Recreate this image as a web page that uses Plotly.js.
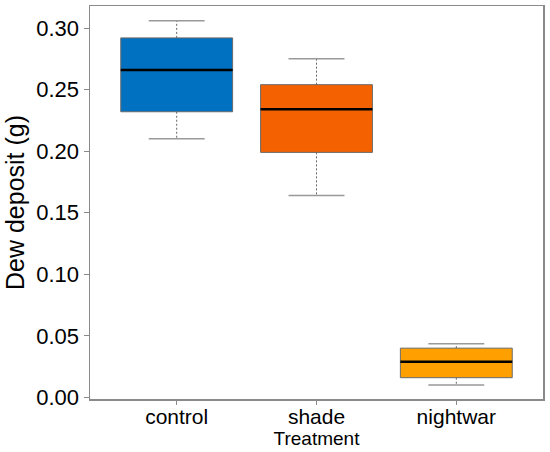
<!DOCTYPE html>
<html>
<head>
<meta charset="utf-8">
<script src="https://cdn.plot.ly/plotly-3.0.1.min.js"></script>
<style>
  html, body { margin: 0; padding: 0; background: #fff; }
  #chart { width: 550px; height: 452px; }
</style>
</head>
<body>
<div id="chart"></div>
<script>
// box summary values
var treatments = ["control", "shade", "nightwar"];
var lowerWhisker = [0.210, 0.164, 0.010];
var q1 = [0.232, 0.199, 0.016];
var medians = [0.266, 0.234, 0.029];
var q3 = [0.292, 0.254, 0.040];
var upperWhisker = [0.306, 0.275, 0.0435];
var boxColors = ["#0070C0", "#F46100", "#FFA000"];

var pos = [0, 1, 2];
var boxW = 0.8;
var capW = 0.4;
var gray = "#8a8a8a";

var traces = [];

// dashed whisker stems + solid caps
for (var i = 0; i < pos.length; i++) {
  traces.push({
    type: "scatter", mode: "lines", hoverinfo: "skip", showlegend: false,
    x: [pos[i], pos[i], null, pos[i], pos[i]],
    y: [q3[i], upperWhisker[i], null, q1[i], lowerWhisker[i]],
    line: { color: "#666", width: 1, dash: "2px,2px" }
  });
  traces.push({
    type: "scatter", mode: "lines", hoverinfo: "skip", showlegend: false,
    x: [pos[i] - capW / 2, pos[i] + capW / 2, null, pos[i] - capW / 2, pos[i] + capW / 2],
    y: [upperWhisker[i], upperWhisker[i], null, lowerWhisker[i], lowerWhisker[i]],
    line: { color: "#999", width: 1.5 }
  });
}

// the boxes themselves (no whiskers, fences at the box edges)
for (var j = 0; j < pos.length; j++) {
  traces.push({
    type: "box", showlegend: false, hoverinfo: "skip",
    x: [pos[j]],
    q1: [q1[j]], median: [medians[j]], q3: [q3[j]],
    lowerfence: [q1[j]], upperfence: [q3[j]],
    width: boxW, whiskerwidth: 0,
    fillcolor: boxColors[j],
    line: { color: "#6b6b6b", width: 1 }
  });
}

// black median lines
for (var k = 0; k < pos.length; k++) {
  traces.push({
    type: "scatter", mode: "lines", hoverinfo: "skip", showlegend: false,
    x: [pos[k] - boxW / 2, pos[k] + boxW / 2],
    y: [medians[k], medians[k]],
    line: { color: "#000", width: 2.5 }
  });
}

var layout = {
  width: 550, height: 452,
  margin: { l: 90, r: 7, t: 6, b: 53 },
  paper_bgcolor: "#fff", plot_bgcolor: "#fff",
  font: { family: "Liberation Sans, Arial, sans-serif", color: "#000" },
  showlegend: false,
  xaxis: {
    range: [-0.62, 2.62],
    tickvals: pos, ticktext: treatments,
    ticks: "outside", ticklen: 4, tickcolor: gray,
    ticklabelstandoff: -6,
    tickfont: { size: 21 },
    showgrid: false, zeroline: false,
    showline: true, linecolor: gray, linewidth: 1.5, mirror: true,
    title: { text: "Treatment", font: { size: 19 }, standoff: 2 }
  },
  yaxis: {
    range: [-0.0013, 0.3179],
    tickvals: [0, 0.05, 0.10, 0.15, 0.20, 0.25, 0.30],
    tickformat: ".2f",
    ticks: "outside", ticklen: 5, tickcolor: gray,
    tickfont: { size: 22 },
    showgrid: false, zeroline: false,
    showline: true, linecolor: gray, linewidth: 1.5, mirror: true,
    title: { text: "Dew deposit (g)", font: { size: 25 }, standoff: 4 }
  }
};

Plotly.newPlot("chart", traces, layout, { staticPlot: true });
</script>
</body>
</html>
